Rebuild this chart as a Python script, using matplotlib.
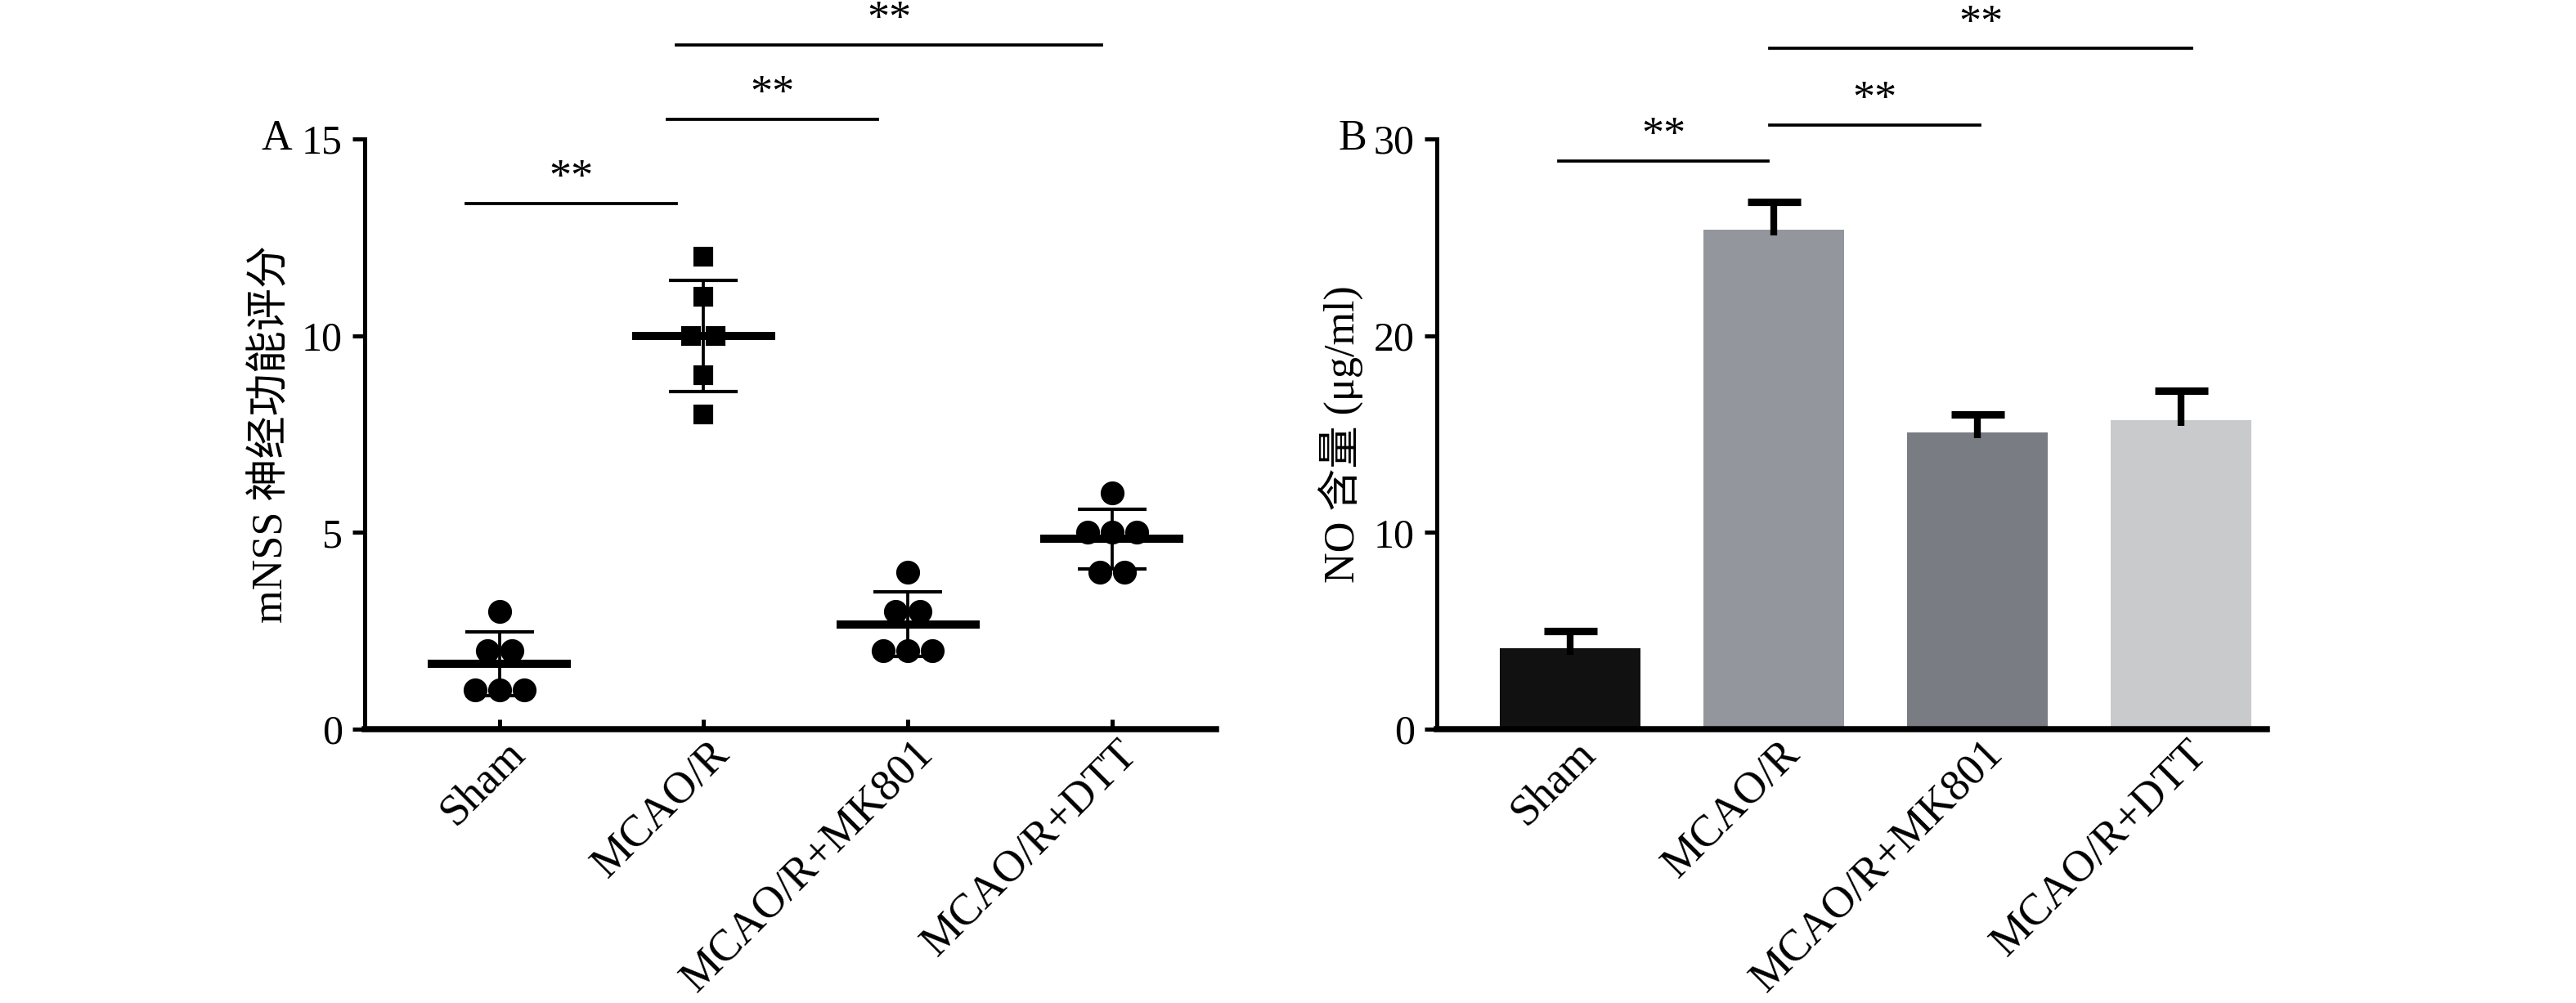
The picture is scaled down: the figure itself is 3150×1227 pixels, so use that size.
import matplotlib
matplotlib.use('Agg')
import matplotlib.pyplot as plt
import matplotlib.transforms as mtransforms
import numpy as np

plt.rcParams['font.family'] = ['Liberation Serif', 'Noto Sans CJK SC', 'DejaVu Sans']
plt.rcParams['font.size'] = 12

groups = ['Sham', 'MCAO/R', 'MCAO/R+MK801', 'MCAO/R+DTT']

# A: mNSS scores, one list per group
mnss = [
    [3, 2, 2, 1, 1, 1],
    [12, 11, 10, 10, 9, 8],
    [4, 3, 3, 2, 2, 2],
    [6, 5, 5, 5, 4, 4],
]
mnss_markers = ['o', 's', 'o', 'o']

# B: NO content (ug/ml), mean and upper error
no_mean = [4.1, 25.4, 15.1, 15.7]
no_err = [0.9, 1.4, 0.9, 1.5]
bar_colors = ['#111111', '#94969e', '#7a7c84', '#c9cacc']

# significance brackets: (start x, end x, height)
sig_a = [(-0.165, 0.867, 13.36), (0.82, 1.85, 15.5), (0.867, 2.95, 17.4)]
sig_b = [(-0.056, 0.97, 28.9), (0.98, 2.01, 30.7), (0.98, 3.05, 34.6)]


def style_axes(ax):
    for s in ['top', 'right']:
        ax.spines[s].set_visible(False)
    ax.spines['left'].set_linewidth(1.2)
    ax.spines['bottom'].set_linewidth(1.8)
    ax.tick_params(axis='y', direction='out', length=3.5, width=1.2, labelsize=12, pad=3)
    ax.tick_params(axis='x', direction='in', length=3, width=1.2, labelsize=13, pad=4)
    ax.set_xticks(range(len(groups)))
    ax.set_xticklabels(groups, rotation=45, ha='right', va='center', rotation_mode='anchor')
    off = mtransforms.ScaledTranslation(0.08, -0.02, ax.figure.dpi_scale_trans)
    for lab in ax.get_xticklabels():
        lab.set_transform(lab.get_transform() + off)


def add_sig(ax, brackets, dy):
    for x0, x1, h in brackets:
        ax.plot([x0, x1], [h, h], color='black', lw=0.9, clip_on=False)
        ax.text((x0 + x1) / 2, h + dy, '**', ha='center', va='bottom', fontsize=13, clip_on=False)


fig = plt.figure(figsize=(10.5, 4.09), dpi=300)
ax1 = fig.add_axes([0.1416, 0.273, 0.3305, 0.5884])
ax2 = fig.add_axes([0.5578, 0.273, 0.3222, 0.5884])

# panel A: scatter with mean and SD
for i, vals in enumerate(mnss):
    vals = np.array(vals)
    xs = np.zeros(len(vals)) + i
    for v in np.unique(vals):
        idx = np.where(vals == v)[0]
        n = len(idx)
        xs[idx] = i + (np.arange(n) - (n - 1) / 2) * 0.12
    ms = 5 if mnss_markers[i] == 's' else 6
    ax1.plot(xs, vals, linestyle='none', marker=mnss_markers[i], ms=ms, color='black', zorder=3)
    m = vals.mean()
    sd = vals.std(ddof=1)
    ax1.plot([i - 0.33, i + 0.33], [m, m], color='black', lw=2.4, zorder=4)
    ax1.errorbar(i, m, yerr=sd, color='black', lw=0.9, capsize=10, capthick=1.0, zorder=2)

ax1.set_xlim(-0.66, 3.51)
ax1.set_ylim(0, 15)
ax1.set_yticks([0, 5, 10, 15])
ax1.set_ylabel('mNSS 神经功能评分', fontsize=12.5, labelpad=3)
style_axes(ax1)
add_sig(ax1, sig_a, 0.1)
ax1.text(-0.085, 1.0, 'A', transform=ax1.transAxes, ha='right', va='center', fontsize=12.5)

# panel B: bar chart with upper error only
x = np.arange(len(groups))
tops = np.array(no_mean) + np.array(no_err)
ax2.bar(x, no_mean, width=0.69, color=bar_colors, zorder=2)
ax2.vlines(x, np.array(no_mean) - 0.3, tops, color='black', lw=2.0, zorder=3)
ax2.hlines(tops, x - 0.13, x + 0.13, color='black', lw=2.2, zorder=3)
ax2.set_xlim(-0.655, 3.42)
ax2.set_ylim(0, 30)
ax2.set_yticks([0, 10, 20, 30])
ax2.set_ylabel('NO 含量 (μg/ml)', fontsize=12.5, labelpad=3)
style_axes(ax2)
add_sig(ax2, sig_b, 0.2)
ax2.text(-0.085, 1.0, 'B', transform=ax2.transAxes, ha='right', va='center', fontsize=12.5)

fig.savefig('out.png', dpi=300)
plt.close()
